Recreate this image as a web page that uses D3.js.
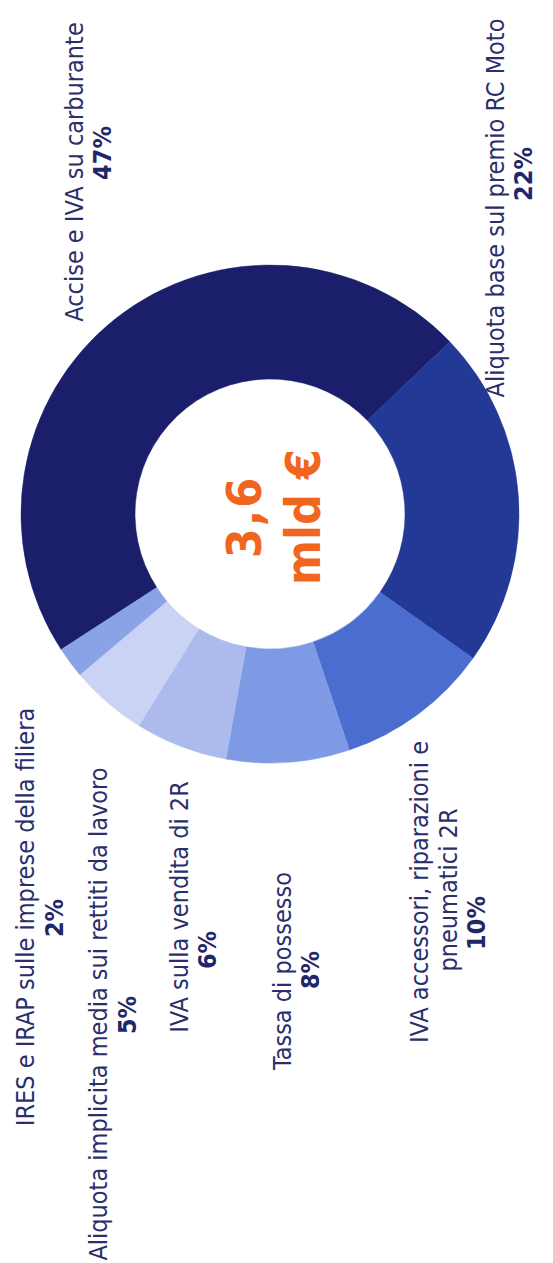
<!DOCTYPE html>
<html>
<head>
<meta charset="utf-8">
<script src="https://cdn.jsdelivr.net/npm/d3@7"></script>
<style>
  html, body { margin: 0; padding: 0; background: #ffffff; }
  svg { display: block; }
</style>
</head>
<body>
<svg id="chart" width="553" height="1263"></svg>
<script>
// ---- data ----
const categories = [
  "Accise e IVA su carburante",
  "Aliquota base sul premio RC Moto",
  "IVA accessori, riparazioni e pneumatici 2R",
  "Tassa di possesso",
  "IVA sulla vendita di 2R",
  "Aliquota implicita media sui rettiti da lavoro",
  "IRES e IRAP sulle imprese della filiera"
];
const values = [47, 22, 10, 8, 6, 5, 2];
const labelLines = [
  ["Accise e IVA su carburante"],
  ["Aliquota base sul premio RC Moto"],
  ["IVA accessori, riparazioni e", "pneumatici 2R"],
  ["Tassa di possesso"],
  ["IVA sulla vendita di 2R"],
  ["Aliquota implicita media sui rettiti da lavoro"],
  ["IRES e IRAP sulle imprese della filiera"]
];
const totalLines = ["3,6", "mld €"];

// ---- styles / layout (page frame; whole chart is turned 90° counter-clockwise) ----
const colors = ["#1b1f6b", "#223a95", "#4a6dcf", "#7e9ae4", "#adbaee", "#cbd3f5", "#8aa2e6"];
const cx = 270, cy = 514, rOuter = 249, rInner = 135;
const startDeg = 237;
// [baseline x, centre y] for each text line, then for the percent line
const labelPos = [
  { lines: [[83, 172]], pct: [111, 153] },
  { lines: [[504, 208]], pct: [532, 174] },
  { lines: [[428, 892], [457, 890]], pct: [485, 923] },
  { lines: [[291, 971]], pct: [319, 970] },
  { lines: [[188, 907]], pct: [216, 950] },
  { lines: [[107, 1014]], pct: [136, 1015] },
  { lines: [[34, 917]], pct: [63, 918] }
];
const textFont = "Tahoma, 'DejaVu Sans Condensed', 'DejaVu Sans', sans-serif";

const svg = d3.select("#chart");

const pie = d3.pie().sort(null).value(d => d)
  .startAngle(startDeg * Math.PI / 180)
  .endAngle((startDeg + 360) * Math.PI / 180);
const arc = d3.arc().innerRadius(rInner).outerRadius(rOuter);

const g = svg.append("g").attr("transform", `translate(${cx},${cy})`);
g.selectAll("path")
  .data(pie(values))
  .join("path")
  .attr("d", arc)
  .attr("fill", (d, i) => colors[i])
  .attr("stroke", (d, i) => colors[i])
  .attr("stroke-width", 0.5);

// centre total
const tg = svg.append("g");
[[261, 517, 2], [320, 517, 0]].forEach((p, i) => {
  tg.append("text")
    .attr("transform", `translate(${p[0]},${p[1]}) rotate(-90)`)
    .attr("text-anchor", "middle")
    .attr("font-family", textFont)
    .attr("font-weight", "bold")
    .attr("font-size", 48)
    .attr("letter-spacing", p[2])
    .attr("fill", "#f0661e")
    .text(totalLines[i]);
});

// labels
const lg = svg.append("g");
categories.forEach((c, i) => {
  const pos = labelPos[i];
  labelLines[i].forEach((line, j) => {
    lg.append("text")
      .attr("transform", `translate(${pos.lines[j][0]},${pos.lines[j][1]}) rotate(-90)`)
      .attr("text-anchor", "middle")
      .attr("font-family", textFont)
      .attr("font-size", 25)
      .attr("fill", "#2a2f6c")
      .text(line);
  });
  lg.append("text")
    .attr("transform", `translate(${pos.pct[0]},${pos.pct[1]}) rotate(-90)`)
    .attr("text-anchor", "middle")
    .attr("font-family", textFont)
    .attr("font-weight", "bold")
    .attr("font-size", 25)
    .attr("fill", "#1f2769")
    .text(values[i] + "%");
});
</script>
</body>
</html>
